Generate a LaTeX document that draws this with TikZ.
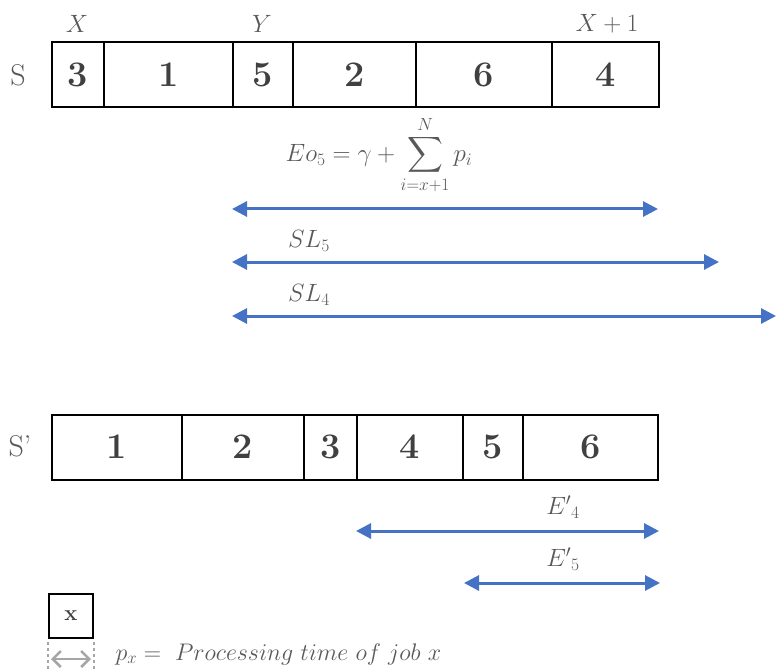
\RequirePackage{fix-cm}
\documentclass[tikz,border=0pt]{standalone}
\usepackage{exscale}
\usepackage{fontspec}
\usetikzlibrary{arrows.meta,positioning}
\definecolor{arrowblue}{HTML}{4472C4}
\definecolor{labelgray}{HTML}{595959}
\definecolor{jobgray}{HTML}{404040}
\definecolor{guidegray}{HTML}{A6A6A6}
\tikzset{
  jobbox/.style={draw, line width=2pt, minimum height=65pt, inner sep=0pt, outer sep=0pt,
    font=\fontsize{36}{40}\selectfont\bfseries, text=jobgray},
  span/.style={arrowblue, line width=3pt,
    {Triangle[length=15pt,width=15pt]}-{Triangle[length=15pt,width=15pt]}},
  mlabel/.style={text=labelgray, font=\fontsize{25}{30}\selectfont},
  seqname/.style={text=labelgray, font=\fontsize{30}{34}\selectfont},
  guide/.style={guidegray, line width=2pt, dashed},
}
\begin{document}
\begin{tikzpicture}[x=1pt,y=-1pt]
  \useasboundingbox (0,0) rectangle (776,671);
  % sequence S
  \foreach \n/\a/\b/\j in {1/52/104/3, 2/104/233/1, 3/233/293/5, 4/293/416/2, 5/416/552/6, 6/552/659/4} {
    \node[jobbox, minimum width={(\b-\a)*1pt}] (s\n) at ({(\a+\b)/2}, 75) {\j};
  }
  \node[seqname] (sname) at (18,75) {S};
  \node[mlabel] (lx) at (77,24) {$X$};
  \node[mlabel] (ly) at (262,24) {$Y$};
  \node[mlabel] (lx1) at (607,24) {$X+1$};
  % spans from Y
  \node[mlabel] (eo) at (379,155) {$Eo_5=\gamma+\displaystyle\sum_{i=x+1}^{N}p_i$};
  \coordinate (eoL) at (232,209);
  \coordinate (eoR) at (658,209);
  \draw[span] (eoL) -- (eoR);
  \node[mlabel] (sl5) at (309,241) {$SL_5$};
  \coordinate (sl5L) at (232,262);
  \coordinate (sl5R) at (719,262);
  \draw[span] (sl5L) -- (sl5R);
  \node[mlabel] (sl4) at (309,295) {$SL_4$};
  \coordinate (sl4L) at (232,316);
  \coordinate (sl4R) at (776,316);
  \draw[span] (sl4L) -- (sl4R);
  % sequence S'
  \foreach \n/\a/\b/\j in {1/52/182/1, 2/182/304/2, 3/304/357/3, 4/357/463/4, 5/463/523/5, 6/523/658/6} {
    \node[jobbox, minimum width={(\b-\a)*1pt}] (t\n) at ({(\a+\b)/2}, 447) {\j};
  }
  \node[seqname] (tname) at (20,446) {S'};
  \node[mlabel] (e4) at (563,507) {${E'}_4$};
  \coordinate (e4L) at (356,531);
  \coordinate (e4R) at (659,531);
  \draw[span] (e4L) -- (e4R);
  \node[mlabel] (e5) at (563,559) {${E'}_5$};
  \coordinate (e5L) at (464,583);
  \coordinate (e5R) at (660,583);
  \draw[span] (e5L) -- (e5R);
  % legend
  \node[draw, line width=2pt, minimum size=44pt, inner sep=0pt, text=jobgray,
    font=\fontsize{22}{26}\selectfont\bfseries] (legbox) at (71,616) {x};
  \draw[guide] ([yshift=-3pt]legbox.south west) -- ++(0,32);
  \draw[guide] ([yshift=-3pt]legbox.south east) -- ++(0,32);
  \draw[guidegray, line width=2.5pt, {Straight Barb[length=8pt,width=16pt]}-{Straight Barb[length=8pt,width=16pt]}]
    ([xshift=3pt,yshift=-20pt]legbox.south west) -- ([xshift=-3pt,yshift=-20pt]legbox.south east);
  \node[mlabel, anchor=west, font=\fontsize{24}{28}\selectfont] (legtxt) at (112,654) {$p_x=\ Processing\ time\ of\ job\ x$};
\end{tikzpicture}
\end{document}
